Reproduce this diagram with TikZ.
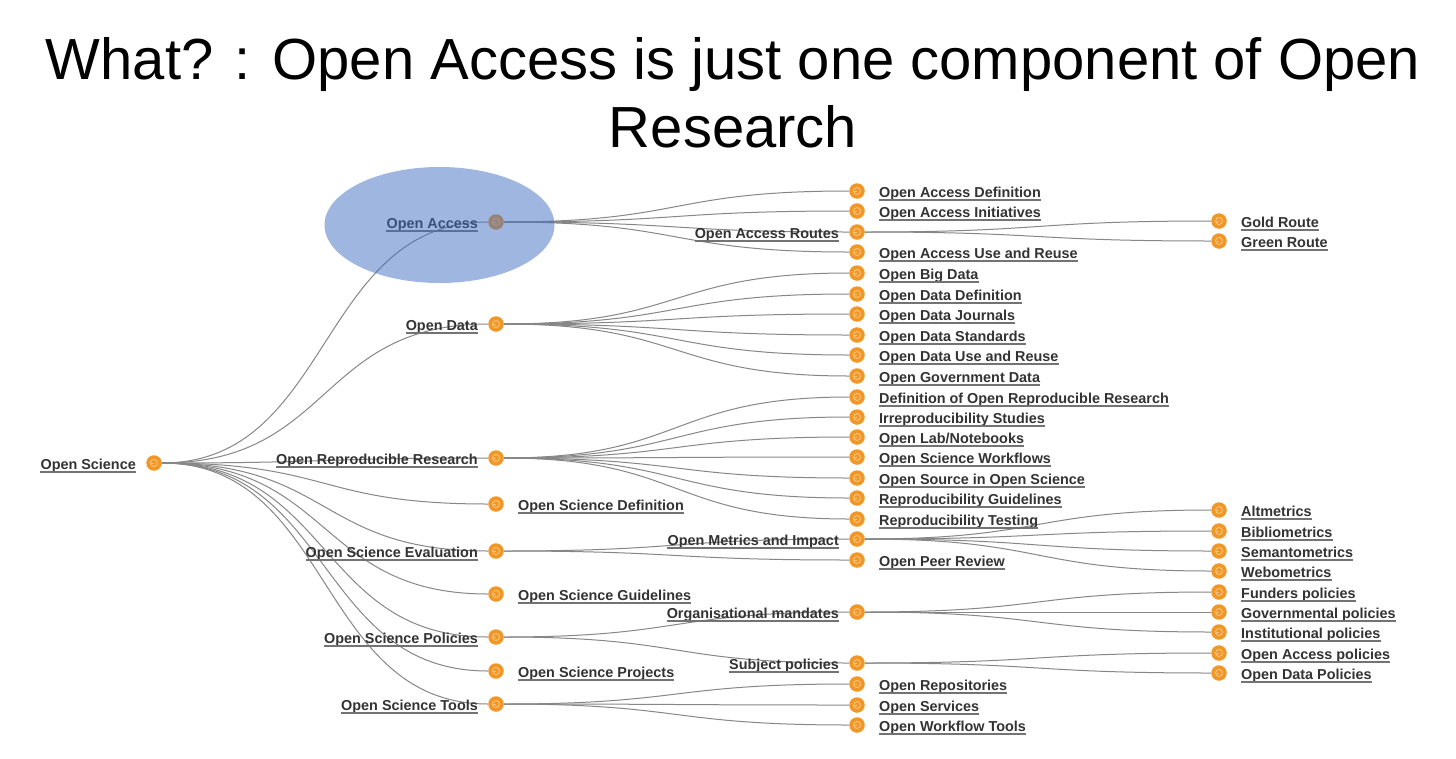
\documentclass[tikz,border=0pt]{standalone}
\usepackage{fontspec}
\setmainfont{Liberation Sans}
\usepackage{tikz}
\usetikzlibrary{backgrounds}
\usepackage{xcolor}
\definecolor{dotorange}{RGB}{241,151,39}
\definecolor{dotring}{RGB}{249,196,122}
\definecolor{linkgray}{RGB}{135,135,135}
\definecolor{txtgray}{RGB}{51,51,51}
\definecolor{ulgray}{RGB}{115,115,115}
\definecolor{hiblue}{RGB}{65,110,195}
\pgfdeclarelayer{paper}
\pgfsetlayers{paper,background,main}

\tikzset{
  dot/.style={circle, fill=dotorange, minimum size=15.5pt, inner sep=0pt,
    path picture={
      \draw[dotring, line width=0.9pt] (path picture bounding box.center) circle (3.5pt);
      \draw[dotring, line width=0.9pt] ([xshift=-3.5pt]path picture bounding box.center) -- (path picture bounding box.center);}},
  lbl/.style={font=\fontsize{14.4}{16}\selectfont\bfseries, text=txtgray, inner sep=0pt,
    append after command={([yshift=-2.2pt]\tikzlastnode.base west) edge[ulgray, line width=1.3pt] ([yshift=-2.2pt]\tikzlastnode.base east)}},
  lblL/.style={lbl, anchor=base east, xshift=-18pt, yshift=-6.8pt},
  lblR/.style={lbl, anchor=base west, xshift=22pt, yshift=-6.8pt},
  link/.style={draw=linkgray, line width=1pt, out=0, in=180, out distance=#1, in distance=#1}
}

% name/y/side/text
\newcommand\levelone{oa/222/lblL/Open Access,
  od/324/lblL/Open Data,
  orr/458/lblL/Open Reproducible Research,
  osdef/504/lblR/Open Science Definition,
  ose/551/lblL/Open Science Evaluation,
  osg/594/lblR/Open Science Guidelines,
  osp/637/lblL/Open Science Policies,
  osproj/671/lblR/Open Science Projects,
  ost/704/lblL/Open Science Tools}
% name/y/parent/side/text
\newcommand\leveltwo{oadef/191/oa/lblR/Open Access Definition,
  oaini/211/oa/lblR/Open Access Initiatives,
  oar/232/oa/lblL/Open Access Routes,
  oause/252/oa/lblR/Open Access Use and Reuse,
  obd/273/od/lblR/Open Big Data,
  oddef/294/od/lblR/Open Data Definition,
  odj/314/od/lblR/Open Data Journals,
  ods/335/od/lblR/Open Data Standards,
  oduse/355/od/lblR/Open Data Use and Reuse,
  ogd/376/od/lblR/Open Government Data,
  dorr/397/orr/lblR/Definition of Open Reproducible Research,
  irr/417/orr/lblR/Irreproducibility Studies,
  olab/437/orr/lblR/{Open Lab/Notebooks},
  osw/457/orr/lblR/Open Science Workflows,
  osos/478/orr/lblR/Open Source in Open Science,
  rg/498/orr/lblR/Reproducibility Guidelines,
  rt/519/orr/lblR/Reproducibility Testing,
  omi/539/ose/lblL/Open Metrics and Impact,
  opr/560/ose/lblR/Open Peer Review,
  om/612/osp/lblL/Organisational mandates,
  sp/663/osp/lblL/Subject policies,
  orep/684/ost/lblR/Open Repositories,
  oserv/705/ost/lblR/Open Services,
  owt/725/ost/lblR/Open Workflow Tools}
\newcommand\levelthree{gold/221/oar/lblR/Gold Route,
  green/241/oar/lblR/Green Route,
  alt/510/omi/lblR/Altmetrics,
  bib/531/omi/lblR/Bibliometrics,
  sem/551/omi/lblR/Semantometrics,
  web/571/omi/lblR/Webometrics,
  fund/592/om/lblR/Funders policies,
  gov/612/om/lblR/Governmental policies,
  inst/632/om/lblR/Institutional policies,
  oapol/653/sp/lblR/Open Access policies,
  odpol/673/sp/lblR/Open Data Policies}

\begin{document}
\begin{tikzpicture}[x=1pt, y=-1pt]
  \begin{pgfonlayer}{paper}
    \fill[white] (0,0) rectangle (1456,758);
  \end{pgfonlayer}
  \useasboundingbox (0,0) rectangle (1456,758);
  % title
  \node[font=\fontsize{58}{67}\selectfont, anchor=base] (title1) at (733,79)
    {What? : Open Access is just one component of Open};
  \node[font=\fontsize{58}{67}\selectfont, anchor=base] (title2) at (733,147) {Research};
  % root
  \node[dot] (os) at (154,463) {};
  \node[lblL] (os-t) at (os) {Open Science};
  % tree levels
  \foreach \n/\y/\s/\t in \levelone{
    \node[dot] (\n) at (496,\y) {};
    \node[\s] (\n-t) at (\n) {\t};
  }
  \foreach \n/\y/\p/\s/\t in \leveltwo{
    \node[dot] (\n) at (857,\y) {};
    \node[\s] (\n-t) at (\n) {\t};
  }
  \foreach \n/\y/\p/\s/\t in \levelthree{
    \node[dot] (\n) at (1219,\y) {};
    \node[\s] (\n-t) at (\n) {\t};
  }
  % links
  \begin{scope}[on background layer]
    \foreach \n/\y/\s/\t in \levelone
      \draw[link=171pt] (os) to (\n);
    \foreach \n/\y/\p/\s/\t in \leveltwo
      \draw[link=180pt] (\p) to (\n);
    \foreach \n/\y/\p/\s/\t in \levelthree
      \draw[link=181pt] (\p) to (\n);
  \end{scope}
  % highlight
  \fill[hiblue, opacity=0.5] (439.5,225) ellipse [x radius=115pt, y radius=58pt];
\end{tikzpicture}
\end{document}
